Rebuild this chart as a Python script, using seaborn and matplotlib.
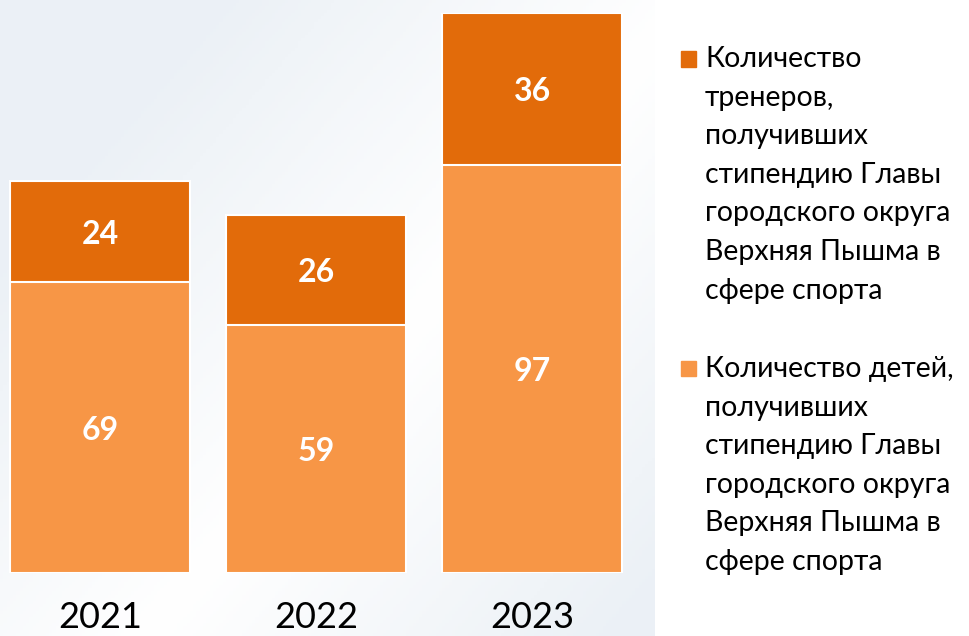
import matplotlib
matplotlib.use("Agg")
import matplotlib.pyplot as plt
import numpy as np
import pandas as pd
import seaborn as sns
from matplotlib.patches import Rectangle

YEARS = ["2021", "2022", "2023"]
CHILDREN = [69, 59, 97]
COACHES = [24, 26, 36]

LABEL_COACHES = ("Количество\nтренеров,\nполучивших\nстипендию Главы\n"
                 "городского округа\nВерхняя Пышма в\nсфере спорта")
LABEL_CHILDREN = ("Количество детей,\nполучивших\nстипендию Главы\n"
                  "городского округа\nВерхняя Пышма в\nсфере спорта")

DARK = "#E26B0A"
LIGHT = "#F79646"

sns.set_theme(style="white")
plt.rcParams["font.family"] = ["Lato", "DejaVu Sans"]

W, H = 970, 636
fig = plt.figure(figsize=(W / 100, H / 100), dpi=100)

# soft diagonal background behind the chart area
bg = fig.add_axes([0, 0, 655 / W, 1], zorder=-5)
yy, xx = np.mgrid[0:1:200j, 0:1:200j]
band = np.clip(np.abs(xx * 0.9 + yy * 0.75 - 0.95) * 1.6, 0, 1)
c_white = np.array([1.0, 1.0, 1.0])
c_gray = np.array([0.925, 0.945, 0.965])
img = c_white + (c_gray - c_white) * band[..., None]
bg.imshow(img, aspect="auto", extent=[0, 1, 0, 1], origin="upper")
bg.set_axis_off()

df = pd.DataFrame({"year": YEARS, "children": CHILDREN, "coaches": COACHES})
df["total"] = df["children"] + df["coaches"]

ax = fig.add_axes([0, 63 / H, 655 / W, 560 / H])
ax.patch.set_alpha(0)
sns.barplot(data=df, x="year", y="total", color=DARK, saturation=1,
            width=0.83, edgecolor="white", linewidth=1.5, ax=ax)
sns.barplot(data=df, x="year", y="children", color=LIGHT, saturation=1,
            width=0.83, edgecolor="white", linewidth=1.5, ax=ax)

top_cont, bot_cont = ax.containers[0], ax.containers[1]
for rect, v in zip(bot_cont, CHILDREN):
    ax.text(rect.get_x() + rect.get_width() / 2, v / 2 - 0.6, str(v),
            ha="center", va="center", color="white", fontsize=23, fontweight="bold")
for rect, v in zip(top_cont, COACHES):
    ax.text(rect.get_x() + rect.get_width() / 2, rect.get_height() - v / 2 - 0.6, str(v),
            ha="center", va="center", color="white", fontsize=23, fontweight="bold")

ax.set_xlim(-0.463, 2.569)
ax.set_ylim(0, 133)
ax.set_xlabel("")
ax.set_ylabel("")
ax.set_yticks([])
ax.tick_params(axis="x", length=0, pad=20, labelsize=26, colors="black")
sns.despine(ax=ax, left=True, bottom=True)

# legend panel
for y0, label, col in [(59, LABEL_COACHES, DARK), (369, LABEL_CHILDREN, LIGHT)]:
    fig.patches.append(Rectangle((681 / W, 1 - (y0 + 7.5) / H), 15 / W, 15 / H,
                                 transform=fig.transFigure, color=col))
    fig.text(705 / W, 1 - (y0 - 13) / H, label, ha="left", va="top",
             fontsize=20.5, linespacing=1.6, color="black")

fig.savefig("out.png", dpi=100, facecolor="white")
